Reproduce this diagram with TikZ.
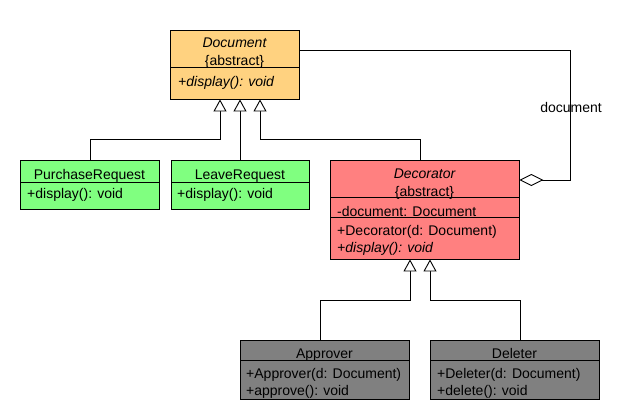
\documentclass[tikz,border=0pt]{standalone}
\usepackage{fontspec}
\setmainfont{Liberation Sans}
\usetikzlibrary{arrows.meta}
\definecolor{docfill}{RGB}{255,210,128}
\definecolor{grnfill}{RGB}{128,255,128}
\definecolor{redfill}{RGB}{255,128,128}
\definecolor{gryfill}{RGB}{128,128,128}
\begin{document}
\begin{tikzpicture}[x=1pt,y=-1pt,
  font=\fontsize{14}{16}\selectfont,
  cls/.style={draw=black, line width=0.9pt, rectangle, inner sep=0pt},
  div/.style={draw=black, line width=0.9pt},
  ctxt/.style={inner sep=0pt, anchor=base},
  ltxt/.style={inner sep=0pt, anchor=base west},
  gen/.style={draw=black, line width=0.9pt, -{Triangle[fill=white, length=12pt, width=13pt]}},
  agg/.style={draw=black, line width=0.9pt, {Diamond[fill=white, length=24pt, width=12pt]}-}
]
\useasboundingbox (0,0) rectangle (640,420);

% Document
\node[cls, fill=docfill, minimum width=129pt, minimum height=69pt] (doc) at (234.5,64.5) {};
\draw[div] (170,67) -- (299,67);
\node[ctxt] (docname) at (234.5,48) {\itshape Document};
\node[ctxt] (docabs) at (234.5,66) {\{abstract\}};
\node[ltxt] (docm) at (178,86) {\itshape +display(): void};

% PurchaseRequest
\node[cls, fill=grnfill, minimum width=139pt, minimum height=49pt] (pr) at (89.5,184.5) {};
\draw[div] (20,182) -- (159,182);
\node[ctxt] (prname) at (89.5,179) {PurchaseRequest};
\node[ltxt] (prm) at (27,198) {+display(): void};

% LeaveRequest
\node[cls, fill=grnfill, minimum width=138pt, minimum height=49pt] (lr) at (240,184.5) {};
\draw[div] (171,182) -- (309,182);
\node[ctxt] (lrname) at (240,179) {LeaveRequest};
\node[ltxt] (lrm) at (177,198) {+display(): void};

% Decorator
\node[cls, fill=redfill, minimum width=189pt, minimum height=99pt] (dec) at (424.5,209.5) {};
\draw[div] (330,197) -- (519,197);
\draw[div] (330,217) -- (519,217);
\node[ctxt] (decname) at (424.5,178) {\itshape Decorator};
\node[ctxt] (decabs) at (424.5,196) {\{abstract\}};
\node[ltxt] (decf) at (337,216) {-document: Document};
\node[ltxt] (decc) at (337,235) {+Decorator(d: Document)};
\node[ltxt] (decm) at (337,252) {\itshape +display(): void};

% Approver
\node[cls, fill=gryfill, minimum width=169pt, minimum height=59pt] (app) at (324.5,369.5) {};
\draw[div] (240,360) -- (409,360);
\node[ctxt] (appname) at (324.5,358) {Approver};
\node[ltxt] (appc) at (246,378) {+Approver(d: Document)};
\node[ltxt] (appm) at (246,395) {+approve(): void};

% Deleter
\node[cls, fill=gryfill, minimum width=169pt, minimum height=59pt] (del) at (514.5,369.5) {};
\draw[div] (430,360) -- (599,360);
\node[ctxt] (delname) at (514.5,358) {Deleter};
\node[ltxt] (delc) at (437,378) {+Deleter(d: Document)};
\node[ltxt] (delm) at (437,395) {+delete(): void};

% generalisations
\coordinate (g1) at (220,139);
\coordinate (g3) at (260,139);
\draw[gen] ([xshift=0.5pt]pr.north) |- (g1) -- (g1 |- doc.south);
\draw[gen] (lr.north) -- (lr.north |- doc.south);
\draw[gen] ([xshift=-4.5pt]dec.north) |- (g3) -- (g3 |- doc.south);

\coordinate (h1) at (410,300);
\coordinate (h2) at (430,300);
\draw[gen] ([xshift=-4.5pt]app.north) |- (h1) -- (h1 |- dec.south);
\draw[gen] ([xshift=5.5pt]del.north) |- (h2) -- (h2 |- dec.south);

% aggregation
\coordinate (a1) at (570,50);
\draw[agg] (dec.east |- 0,180) -| (a1) -- (a1 -| doc.east);
\node[inner sep=0pt, anchor=base] (agglbl) at (571,113) {document};
\end{tikzpicture}
\end{document}
